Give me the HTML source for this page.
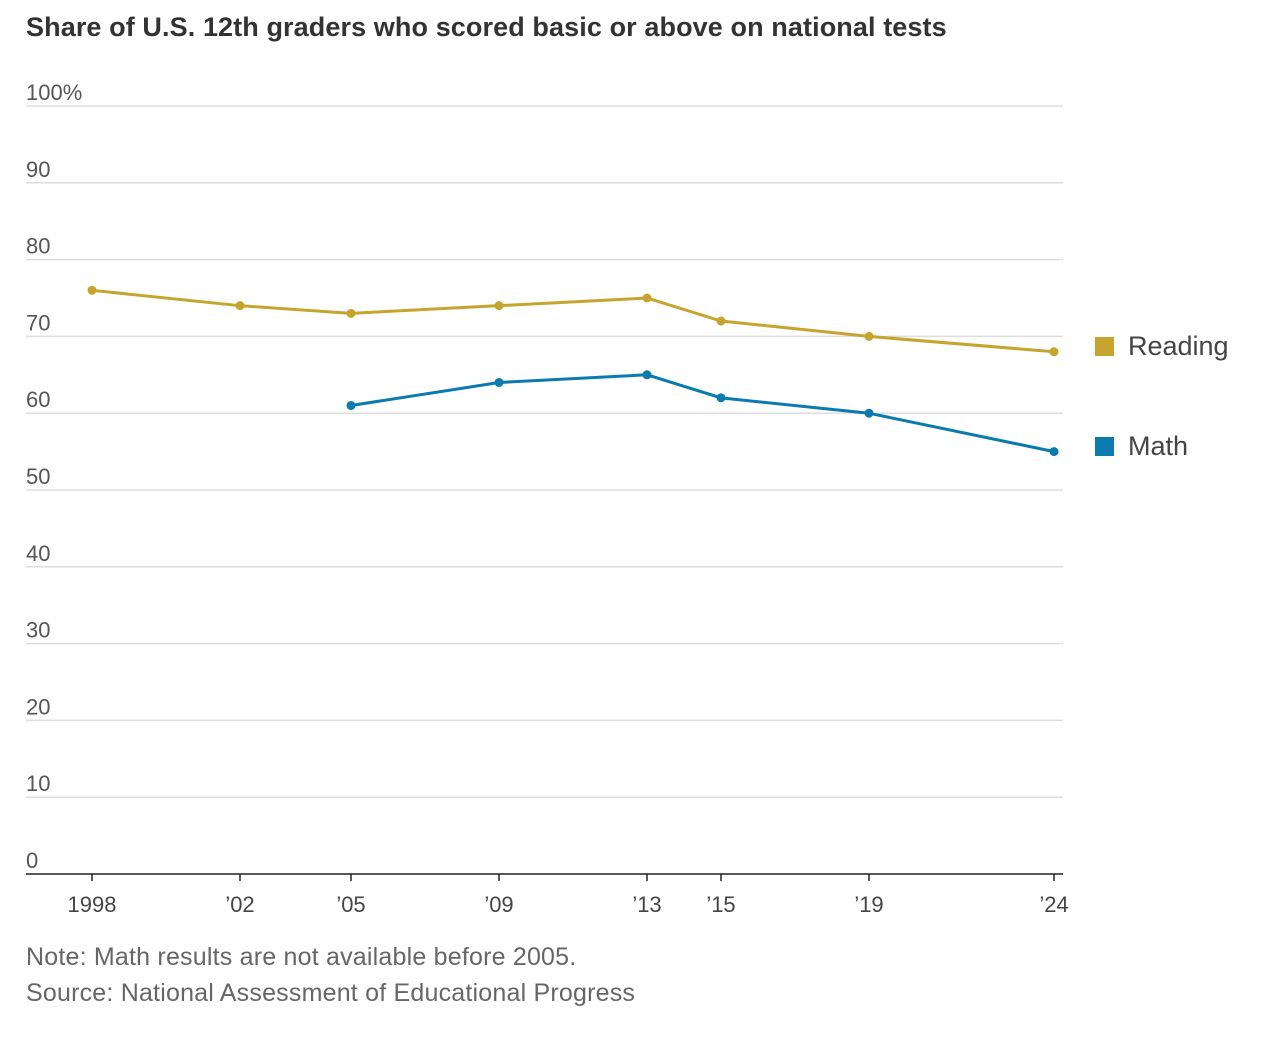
<!DOCTYPE html>
<html><head><meta charset="utf-8"><style>
body{margin:0;background:#fff;width:1278px;height:1042px;overflow:hidden;font-family:"Liberation Sans",sans-serif;}
#title{position:absolute;left:26px;top:12px;font-size:27px;font-weight:bold;color:#333;letter-spacing:0.1px;}
.note{position:absolute;left:26px;font-size:25px;color:#666;letter-spacing:0.2px;}
</style></head><body>
<div id="title">Share of U.S. 12th graders who scored basic or above on national tests</div>
<svg id="chart" width="1278" height="1042" style="position:absolute;left:0;top:0"></svg>
<div class="note" style="top:943px">Note: Math results are not available before 2005.</div>
<div class="note" style="top:979px">Source: National Assessment of Educational Progress</div>
<script>
const years=[1998,2002,2005,2009,2013,2015,2019,2024];
const xLabels=["1998","’02","’05","’09","’13","’15","’19","’24"];
const reading=[76,74,73,74,75,72,70,68];
const math=[null,null,61,64,65,62,60,55];
const yTicks=[0,10,20,30,40,50,60,70,80,90,100];
const svg=document.getElementById('chart');
const NS='http://www.w3.org/2000/svg';
const x=y=>92+(y-1998)*37;
const yv=v=>874-7.68*v;
function mk(t,a){const e=document.createElementNS(NS,t);for(const k in a)e.setAttribute(k,a[k]);svg.appendChild(e);return e;}
yTicks.forEach(v=>{
 if(v>0){const g=mk('line',{x1:26,x2:1063,y1:yv(v),y2:yv(v),stroke:'#ddd','stroke-width':1.5});
 
 }
 const t=mk('text',{x:26,y:yv(v)-6,'font-size':22,fill:'#555','font-family':'Liberation Sans, sans-serif'});
 t.textContent=v===100?'100%':String(v);
 
 
});
const base=mk('line',{x1:26,x2:1063,y1:874,y2:874,stroke:'#222','stroke-width':1.5});


years.forEach((yr,i)=>{
 const tk=mk('line',{x1:x(yr),x2:x(yr),y1:874,y2:881,stroke:'#222','stroke-width':1.5});
 
 
 const t=mk('text',{x:x(yr),y:912,'font-size':22,fill:'#444','text-anchor':'middle','font-family':'Liberation Sans, sans-serif'});
 t.textContent=xLabels[i];
 
 
});
function series(vals,color,name){
 const pts=[];vals.forEach((v,i)=>{if(v!=null)pts.push([x(years[i]),yv(v)]);});
 const p=mk('polyline',{points:pts.map(p=>p.join(',')).join(' '),fill:'none',stroke:color,'stroke-width':3});
 
 
 pts.forEach(q=>{const c=mk('circle',{cx:q[0],cy:q[1],r:4.5,fill:color});
 
 });
}
series(reading,'#c5a52e','reading');
series(math,'#0b7aaf','math');
[['Reading','#c5a52e',346],['Math','#0b7aaf',446]].forEach(l=>{
 const r=mk('rect',{x:1095,y:l[2]-9,width:19,height:19,fill:l[1]});
 
 
 const t=mk('text',{x:1128,y:l[2]+9,'font-size':27,fill:'#444','font-family':'Liberation Sans, sans-serif'});
 t.textContent=l[0];
 
 
});
</script>
</body></html>
